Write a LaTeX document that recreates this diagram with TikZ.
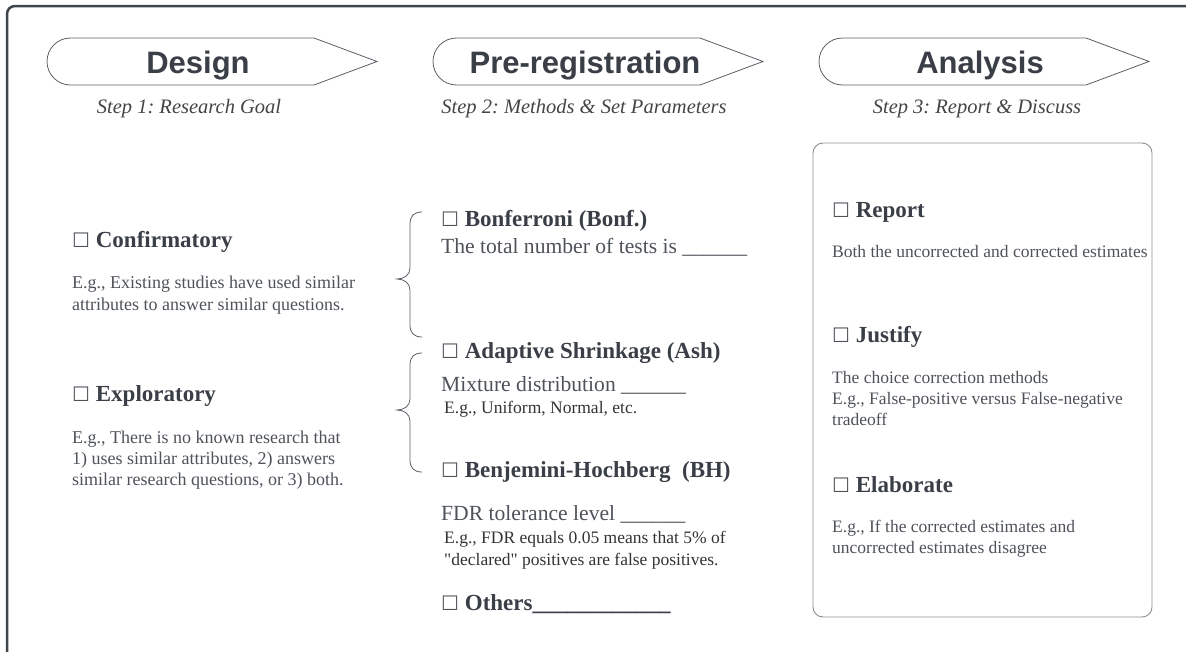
\documentclass[tikz,border=0pt]{standalone}
\usepackage{fontspec}
\setmainfont{Liberation Serif}
\newfontfamily\headfont{Liberation Sans}
\newfontfamily\boxfont{DejaVu Sans}
\definecolor{framec}{HTML}{41464D}
\definecolor{headc}{HTML}{3A3F47}
\definecolor{txtc}{HTML}{4E535A}
\definecolor{darktxt}{HTML}{333333}
\definecolor{stepc}{HTML}{444444}
\definecolor{linec}{HTML}{5A5F66}
\definecolor{boxc}{HTML}{8A8D92}
\newcommand{\cbx}{{\boxfont\fontsize{20}{20}\selectfont\color{txtc}☐}}
\newcommand{\stageshape}[1]{%
  \draw[stageline] (#1+23.5,38) -- (#1+267,38) -- (#1+330,61.5) -- (#1+267,85) -- (#1+23.5,85)
    .. controls (#1+10.5,85) and (#1,74.5) .. (#1,61.5)
    .. controls (#1,48.5) and (#1+10.5,38) .. (#1+23.5,38) -- cycle;}
\newcommand{\leftbrace}[3]{% top tipy bottom
  \draw[braceline] (422,#1) .. controls (414,#1) and (410,#1+4) .. (410,#1+12)
    -- (410,#2-11) .. controls (410,#2-4) and (404,#2) .. (397,#2)
    .. controls (404,#2) and (410,#2+4) .. (410,#2+11)
    -- (410,#3-12) .. controls (410,#3-4) and (414,#3) .. (422,#3);}
\frenchspacing
\begin{document}
\begin{tikzpicture}[x=1pt,y=-1pt,
  stageline/.style={draw=linec, line width=0.8pt},
  braceline/.style={draw=linec, line width=0.8pt},
  headtxt/.style={anchor=base, inner sep=0pt, text=headc, font=\headfont\bfseries\fontsize{31}{31}\selectfont},
  steptxt/.style={anchor=base, inner sep=0pt, text=stepc, font=\itshape\fontsize{20.5}{20.5}\selectfont},
  item/.style={anchor=base west, inner sep=0pt, text=headc, font=\bfseries\fontsize{23}{23}\selectfont},
  param/.style={anchor=base west, inner sep=0pt, text=txtc, font=\fontsize{21.6}{21.6}\selectfont},
  garex/.style={anchor=base west, inner sep=0pt, text=txtc, font=\fontsize{18}{18}\selectfont},
  smallex/.style={anchor=base west, inner sep=0pt, text=darktxt, font=\fontsize{17.5}{17.5}\selectfont},
  rightex/.style={anchor=base west, inner sep=0pt, text=txtc, font=\fontsize{17.5}{17.5}\selectfont}
]
\useasboundingbox (0,0) rectangle (1186,651);
% outer frame (open at right and bottom)
\draw[framec, line width=2.5pt, rounded corners=8pt] (7,700) -- (7,6) -- (1220,6);

% stage arrows
\stageshape{47}
\stageshape{433}
\stageshape{819}
\node[headtxt] (hdes) at (198,73) {Design};
\node[headtxt] (hpre) at (585,73) {Pre-registration};
\node[headtxt] (hana) at (980,73) {Analysis};
\node[steptxt] (sdes) at (189,113) {Step 1: Research Goal};
\node[steptxt] (spre) at (584,113) {Step 2: Methods \& Set Parameters};
\node[steptxt] (sana) at (977,113) {Step 3: Report \& Discuss};

% left column
\node[item] (conf) at (72,247) {\cbx\ Confirmatory};
\node[garex] (conf1) at (72,288) {E.g., Existing studies have used similar};
\node[garex] (conf2) at (72,310) {attributes to answer similar questions.};
\node[item] (expl) at (72,401) {\cbx\ Exploratory};
\node[garex] (expl1) at (72,443) {E.g., There is no known research that};
\node[garex] (expl2) at (72,464) {1) uses similar attributes, 2) answers};
\node[garex] (expl3) at (72,485) {similar research questions, or 3) both.};

% braces
\leftbrace{212}{279}{337}
\leftbrace{353}{410}{472}

% middle column
\node[item] (bonf) at (441,226) {\cbx\ Bonferroni (Bonf.)};
\node[param] (bonft) at (441,253) {The total number of tests is \_\_\_\_\_\_};
\node[item] (ash) at (441,358) {\cbx\ Adaptive Shrinkage (Ash)};
\node[param] (mix) at (441,391) {Mixture distribution \_\_\_\_\_\_};
\node[smallex] (mixex) at (444,413) {E.g., Uniform, Normal, etc.};
\node[item] (bh) at (441,477) {\cbx\ Benjemini-Hochberg\ \ (BH)};
\node[param] (fdr) at (441,520) {FDR tolerance level \_\_\_\_\_\_};
\node[smallex] (fdr1) at (444,543) {E.g., FDR equals 0.05 means that 5\% of};
\node[smallex] (fdr2) at (444,565) {\textquotedbl declared\textquotedbl\ positives are false positives.};
\node[item] (oth) at (441,610) {\cbx\ Others\_\_\_\_\_\_\_\_\_\_\_\_};

% right column
\draw[boxc, line width=0.9pt, rounded corners=10pt] (813,143) rectangle (1152,617);
\node[item] (rep) at (832,217) {\cbx\ Report};
\node[rightex] (rept) at (832,257) {Both the uncorrected and corrected estimates};
\node[item] (jus) at (832,342) {\cbx\ Justify};
\node[rightex] (jus1) at (832,383) {The choice correction methods};
\node[rightex] (jus2) at (832,404) {E.g., False-positive versus False-negative};
\node[rightex] (jus3) at (832,425) {tradeoff};
\node[item] (ela) at (832,492) {\cbx\ Elaborate};
\node[rightex] (ela1) at (832,532) {E.g., If the corrected estimates and};
\node[rightex] (ela2) at (832,553) {uncorrected estimates disagree};
\end{tikzpicture}
\end{document}
